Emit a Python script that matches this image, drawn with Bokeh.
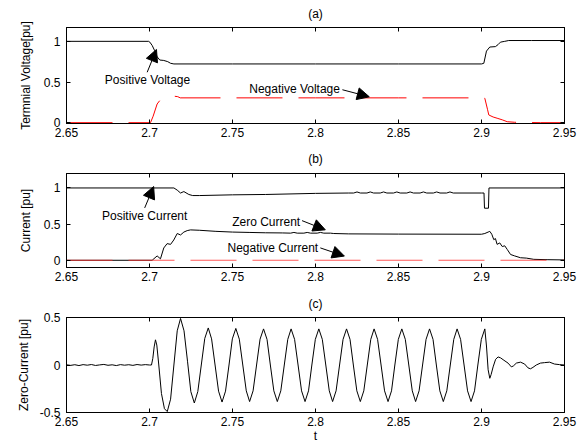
from bokeh.plotting import figure
from bokeh.models import Range1d, FixedTicker, LinearAxis, Arrow, NormalHead, Label
from bokeh.layouts import column
from bokeh.embed import file_html
from bokeh.resources import INLINE

FONT = "Liberation Sans"

# ---------------- data ----------------
x_ticks = [2.65, 2.70, 2.75, 2.80, 2.85, 2.90, 2.95]
x_tick_labels = ["2.65", "2.7", "2.75", "2.8", "2.85", "2.9", "2.95"]
y_ticks_ab = [0, 0.5, 1]
y_tick_labels_ab = ["0", "0.5", "1"]
y_ticks_c = [-0.5, 0, 0.5]
y_tick_labels_c = ["-0.5", "0", "0.5"]

# (a) terminal voltage
t_pos_v = [2.65, 2.6995, 2.7002, 2.7016, 2.7030, 2.7046, 2.7062, 2.7086, 2.7110, 2.7127,
           2.7147, 2.7500, 2.8000, 2.8500, 2.9000, 2.9014, 2.9030, 2.9050, 2.9084, 2.9100,
           2.9114, 2.9140, 2.9164, 2.9300, 2.9500]
pos_v = [1.00, 1.00, 0.99, 0.95, 0.89, 0.81, 0.77, 0.765, 0.75, 0.73,
         0.722, 0.722, 0.722, 0.722, 0.722, 0.73, 0.88, 0.93, 0.935, 0.96,
         0.99, 1.00, 1.01, 1.01, 1.01]
t_neg_v = [2.65, 2.7006, 2.7022, 2.7046, 2.7065, 2.7100, 2.7133, 2.7150, 2.7170, 2.7185,
           2.7500, 2.8000, 2.8500, 2.9000, 2.9020, 2.9036, 2.9044, 2.9070, 2.9094, 2.9125,
           2.9155, 2.9200, 2.9355, 2.9500]
neg_v = [0.0, 0.0, 0.08, 0.23, 0.28, 0.30, 0.315, 0.325, 0.32, 0.305,
         0.305, 0.305, 0.305, 0.305, 0.30, 0.165, 0.095, 0.07, 0.055, 0.035,
         0.012, 0.005, 0.0, 0.0]

# (b) currents
t_pos_i = [2.65, 2.7147, 2.7167, 2.7187, 2.7207, 2.7237, 2.7260, 2.7300, 2.7500, 2.7700,
           2.8000, 2.8200, 2.8230, 2.8250, 2.8270, 2.8310, 2.8330, 2.8350, 2.8390, 2.8410,
           2.8430, 2.8470, 2.8490, 2.8510, 2.8550, 2.8570, 2.8590, 2.8630, 2.8650, 2.8670,
           2.8710, 2.8730, 2.8750, 2.8790, 2.8810, 2.8830, 2.9000, 2.9015, 2.9018, 2.9042,
           2.9045, 2.9500]
pos_i = [1.0, 1.0, 0.97, 0.93, 0.95, 0.91, 0.895, 0.895, 0.905, 0.91,
         0.925, 0.93, 0.93, 0.945, 0.93, 0.93, 0.945, 0.93, 0.93, 0.945,
         0.93, 0.93, 0.945, 0.93, 0.93, 0.945, 0.93, 0.93, 0.945, 0.93,
         0.93, 0.945, 0.93, 0.93, 0.945, 0.93, 0.93, 0.93, 0.72, 0.72,
         1.0, 1.0]
t_zero_i = [2.65, 2.7016, 2.7046, 2.7066, 2.7086, 2.7106, 2.7127, 2.7146, 2.7167, 2.7187,
            2.7207, 2.7227, 2.7247, 2.7300, 2.7400, 2.7500, 2.7600, 2.7700, 2.7800, 2.7850,
            2.7870, 2.7890, 2.7930, 2.7950, 2.7970, 2.8010, 2.8030, 2.8050, 2.8090, 2.8110,
            2.8200, 2.8500, 2.9000, 2.9020, 2.9040, 2.9050, 2.9062, 2.9074, 2.9084, 2.9094,
            2.9110, 2.9125, 2.9140, 2.9155, 2.9175, 2.9200, 2.9235, 2.9270, 2.9315, 2.9400,
            2.9500]
zero_i = [0.0, 0.0, 0.06, 0.02, 0.17, 0.23, 0.22, 0.28, 0.37, 0.35,
          0.39, 0.41, 0.42, 0.415, 0.40, 0.39, 0.385, 0.38, 0.378, 0.375,
          0.385, 0.375, 0.375, 0.385, 0.375, 0.375, 0.385, 0.375, 0.375, 0.37,
          0.365, 0.362, 0.36, 0.37, 0.39, 0.40, 0.36, 0.285, 0.30, 0.22,
          0.24, 0.19, 0.20, 0.15, 0.08, 0.06, 0.035, 0.03, 0.013, 0.008,
          0.005]
t_neg_i = [2.65, 2.95]
neg_i = [0.0, 0.0]

# (c) zero-sequence current
t_c_pre = [2.6500, 2.6525, 2.6550, 2.6575, 2.6600, 2.6625, 2.6650, 2.6675, 2.6700, 2.6725,
           2.6750, 2.6775, 2.6800, 2.6825, 2.6850, 2.6875, 2.6900, 2.6925, 2.6950, 2.6975,
           2.7000]
c_pre = [0.002, -0.004, 0.003, -0.006, 0.004, -0.002, 0.005, -0.005, 0.001, 0.006,
         -0.003, 0.002, -0.006, 0.004, -0.002, 0.003, -0.004, 0.005, -0.001, 0.004,
         0.0]
t_c_event = [2.7012, 2.7020, 2.7028, 2.7036, 2.7044, 2.7056, 2.7072, 2.7090, 2.7107, 2.7127,
             2.7147, 2.7167]
c_event = [0.0, 0.07, 0.19, 0.265, 0.21, 0.0, -0.30, -0.46, -0.49, -0.36,
           0.0, 0.36]
t_c_osc = [2.7187, 2.7208, 2.7229, 2.7249, 2.7270, 2.7291, 2.7312, 2.7333,
           2.7354, 2.7374, 2.7395, 2.7416, 2.7437, 2.7458, 2.7479, 2.7499,
           2.7520, 2.7541, 2.7562, 2.7583, 2.7603, 2.7624, 2.7645, 2.7666,
           2.7687, 2.7708, 2.7728, 2.7749, 2.7770, 2.7791, 2.7812, 2.7833,
           2.7853, 2.7874, 2.7895, 2.7916, 2.7937, 2.7958, 2.7978, 2.7999,
           2.8020, 2.8041, 2.8062, 2.8083, 2.8103, 2.8124, 2.8145, 2.8166,
           2.8187, 2.8208, 2.8228, 2.8249, 2.8270, 2.8291, 2.8312, 2.8333,
           2.8353, 2.8374, 2.8395, 2.8416, 2.8437, 2.8458, 2.8478, 2.8499,
           2.8520, 2.8541, 2.8562, 2.8583, 2.8603, 2.8624, 2.8645, 2.8666,
           2.8687, 2.8708, 2.8728, 2.8749, 2.8770, 2.8791, 2.8812, 2.8833,
           2.8853, 2.8874, 2.8895, 2.8916, 2.8937, 2.8958, 2.8978, 2.8999,
           2.9020]
c_osc = [0.49, 0.36, 0.04, -0.28, -0.40, -0.28, 0.0, 0.28,
         0.39, 0.275, 0.0, -0.275, -0.39, -0.275, 0.0, 0.275,
         0.385, 0.272, 0.0, -0.272, -0.385, -0.272, 0.0, 0.272,
         0.38, 0.27, 0.0, -0.272, -0.385, -0.272, 0.0, 0.27,
         0.38, 0.27, 0.0, -0.272, -0.385, -0.272, 0.0, 0.27,
         0.38, 0.27, 0.0, -0.272, -0.385, -0.272, 0.0, 0.27,
         0.38, 0.27, 0.0, -0.272, -0.385, -0.272, 0.0, 0.27,
         0.38, 0.27, 0.0, -0.272, -0.385, -0.272, 0.0, 0.27,
         0.38, 0.27, 0.0, -0.272, -0.385, -0.272, 0.0, 0.27,
         0.38, 0.27, 0.0, -0.272, -0.385, -0.272, 0.0, 0.27,
         0.38, 0.27, 0.0, -0.272, -0.385, -0.272, 0.0, 0.27,
         0.38]
t_c_post = [2.9030, 2.9040, 2.9050, 2.9058, 2.9070, 2.9085, 2.9100, 2.9115, 2.9135, 2.9160,
            2.9180, 2.9192, 2.9210, 2.9235, 2.9260, 2.9280, 2.9295, 2.9310, 2.9330, 2.9355,
            2.9380, 2.9410, 2.9440, 2.9470, 2.9500]
c_post = [0.20, -0.05, -0.14, -0.10, -0.02, 0.06, 0.085, 0.075, 0.05, 0.02,
          -0.02, -0.01, 0.02, 0.03, 0.01, -0.03, -0.04, -0.025, 0.0, 0.02,
          0.025, 0.03, 0.01, 0.004, 0.0]

# ---------------- helpers ----------------
FS = "12px"


def make_fig(title, title_gap, height, b_top, b_bottom, y0, y1, yticks, ylabels, ylabel,
             ylabel_standoff):
    p = figure(width=577, height=height, output_backend="svg", toolbar_location=None,
               x_range=Range1d(2.65, 2.95), y_range=Range1d(y0, y1),
               min_border_left=66, min_border_right=13,
               min_border_top=b_top, min_border_bottom=b_bottom,
               background_fill_color="white", border_fill_color="white")
    p.xgrid.visible = False
    p.ygrid.visible = False
    p.outline_line_color = "black"
    p.outline_line_width = 1

    xax = p.below[0]
    yax = p.left[0]
    xax.ticker = FixedTicker(ticks=x_ticks)
    yax.ticker = FixedTicker(ticks=yticks)
    xax.major_label_overrides = dict(zip(x_ticks, x_tick_labels))
    yax.major_label_overrides = dict(zip(yticks, ylabels))
    for ax in (xax, yax):
        ax.major_tick_in = 4
        ax.major_tick_out = 0
        ax.minor_tick_line_color = None
        ax.axis_line_color = "black"
        ax.major_tick_line_color = "black"
        ax.major_label_text_font = FONT
        ax.major_label_text_font_size = FS
        ax.major_label_text_color = "black"
        ax.axis_label_text_font = FONT
        ax.axis_label_text_font_size = FS
        ax.axis_label_text_font_style = "normal"
        ax.axis_label_text_color = "black"
    xax.major_label_standoff = 4
    yax.major_label_standoff = 6
    yax.axis_label = ylabel
    yax.axis_label_standoff = ylabel_standoff

    # top axis: inward ticks only, its label is the panel caption "(a)" etc.
    top = LinearAxis(ticker=FixedTicker(ticks=x_ticks), major_tick_in=4, major_tick_out=0,
                     minor_tick_line_color=None, major_label_text_color=None,
                     major_label_standoff=0, axis_line_color="black",
                     axis_label=title, axis_label_standoff=title_gap,
                     axis_label_text_font=FONT, axis_label_text_font_size=FS,
                     axis_label_text_font_style="normal", axis_label_text_color="black")
    right = LinearAxis(ticker=FixedTicker(ticks=yticks), major_tick_in=4, major_tick_out=0,
                       minor_tick_line_color=None, major_label_text_color=None,
                       major_label_standoff=0, axis_line_color="black")
    p.add_layout(top, "above")
    p.add_layout(right, "right")
    return p, xax


def add_note(p, text, tx, ty, x0, y0, x1, y1):
    p.add_layout(Label(x=tx, y=ty, text=text, text_align="center", text_baseline="middle",
                       text_font=FONT, text_font_size=FS, text_color="black"))
    p.add_layout(Arrow(x_start=x0, y_start=y0, x_end=x1, y_end=y1, line_width=1,
                       line_color="black",
                       end=NormalHead(size=12, fill_color="black", line_color="black")))


# ---------------- (a) ----------------
pa, _ = make_fig("(a)", 7, 148, 27, 25, -0.01, 1.17, y_ticks_ab, y_tick_labels_ab,
                 "Termnial Voltage[pu]", 8)
pa.line(t_neg_v, neg_v, line_color="#ff0000", line_width=1, line_dash="46 16")
pa.line(t_pos_v, pos_v, line_color="black", line_width=1)
add_note(pa, "Positive Voltage", 2.6988, 0.53, 2.6986, 0.62, 2.7042, 0.90)
add_note(pa, "Negative Voltage", 2.7874, 0.414, 2.8162, 0.405, 2.8324, 0.318)

# ---------------- (b) ----------------
pb, _ = make_fig("(b)", 8, 144, 24, 25, -0.1, 1.2, y_ticks_ab, y_tick_labels_ab,
                 "Current [pu]", 8)
pb.line(t_pos_i, pos_i, line_color="black", line_width=1)
pb.line(t_zero_i, zero_i, line_color="black", line_width=1)
pb.line(t_neg_i, neg_i, line_color="#ff3030", line_alpha=0.8, line_width=1.2, line_dash="46 16")
add_note(pb, "Positive Current", 2.6971, 0.615, 2.6971, 0.724, 2.7025, 1.02)
add_note(pb, "Zero Current", 2.7703, 0.534, 2.7919, 0.548, 2.8059, 0.421)
add_note(pb, "Negative Current", 2.7743, 0.163, 2.8029, 0.171, 2.8174, 0.058)

# ---------------- (c) ----------------
pc, pc_x = make_fig("(c)", 7, 153, 25, 32, -0.5, 0.5, y_ticks_c, y_tick_labels_c,
                    "Zero-Current [pu]", 6)
pc_x.axis_label = "t"
pc_x.axis_label_standoff = 0
t_c = t_c_pre + t_c_event + t_c_osc + t_c_post
c_val = c_pre + c_event + c_osc + c_post
pc.line(t_c, c_val, line_color="black", line_width=1)

layout = column(pa, pb, pc, spacing=0)
open("out.html", "w").write(file_html(layout, INLINE))
